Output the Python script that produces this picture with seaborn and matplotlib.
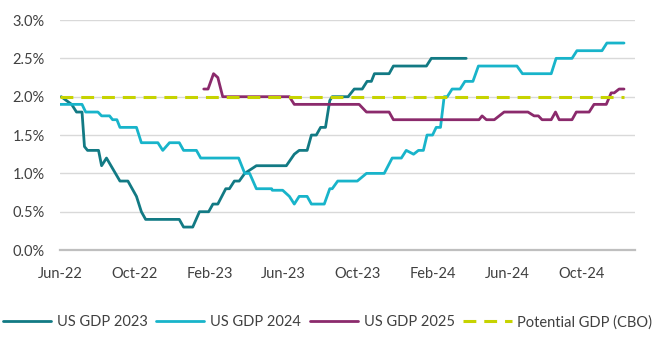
import matplotlib
matplotlib.use("Agg")
import matplotlib.pyplot as plt
import matplotlib.dates as mdates
import matplotlib.ticker as mticker
import pandas as pd
import seaborn as sns

sns.set_theme(style="white")
plt.rcParams["font.family"] = ["Lato", "DejaVu Sans"]

C_2023 = "#127a84"
C_2024 = "#18b4ca"
C_2025 = "#8b2a6c"
C_POT = "#c6d300"
TEXT = "#404040"

# ---------------------------------------------------------------------------
# Data (forecast revisions, % growth)
# ---------------------------------------------------------------------------

dates_2023 = [
    "2022-06-03", "2022-06-20", "2022-06-28", "2022-07-07", "2022-07-11", "2022-07-16",
    "2022-08-03", "2022-08-08", "2022-08-16", "2022-09-07", "2022-09-20", "2022-10-04",
    "2022-10-12", "2022-10-19", "2022-12-13", "2022-12-20", "2023-01-04", "2023-01-15",
    "2023-01-30", "2023-02-06", "2023-02-14", "2023-02-27", "2023-03-05", "2023-03-13",
    "2023-03-21", "2023-03-30", "2023-04-18", "2023-06-06", "2023-06-19", "2023-06-27",
    "2023-07-10", "2023-07-17", "2023-07-25", "2023-08-01", "2023-08-09", "2023-08-16",
    "2023-08-20", "2023-09-15", "2023-09-25", "2023-10-08", "2023-10-16", "2023-10-23",
    "2023-10-28", "2023-11-21", "2023-11-28", "2024-01-21", "2024-01-29", "2024-03-26",
]
gdp_2023 = [
    2.0, 1.9, 1.8, 1.8, 1.35, 1.3,
    1.3, 1.1, 1.2, 0.9, 0.9, 0.7,
    0.5, 0.4, 0.4, 0.3, 0.3, 0.5,
    0.5, 0.6, 0.6, 0.8, 0.8, 0.9,
    0.9, 1.0, 1.1, 1.1, 1.25, 1.3,
    1.3, 1.5, 1.5, 1.6, 1.6, 1.95,
    2.0, 2.0, 2.1, 2.1, 2.2, 2.2,
    2.3, 2.3, 2.4, 2.4, 2.5, 2.5,
]

dates_2024 = [
    "2022-06-01", "2022-07-07", "2022-07-13", "2022-08-02", "2022-08-08", "2022-08-21",
    "2022-08-26", "2022-09-02", "2022-09-07", "2022-10-04", "2022-10-12", "2022-11-08",
    "2022-11-16", "2022-11-27", "2022-12-13", "2022-12-20", "2023-01-10", "2023-01-17",
    "2023-03-20", "2023-03-30", "2023-04-07", "2023-04-18", "2023-05-13", "2023-05-14",
    "2023-05-31", "2023-06-11", "2023-06-19", "2023-06-27", "2023-07-10", "2023-07-17",
    "2023-08-07", "2023-08-16", "2023-08-20", "2023-08-29", "2023-09-30", "2023-10-15",
    "2023-11-13", "2023-11-26", "2023-12-11", "2023-12-19", "2023-12-31", "2024-01-08",
    "2024-01-16", "2024-01-22", "2024-01-31", "2024-02-06", "2024-02-13", "2024-02-19",
    "2024-02-24", "2024-03-03", "2024-03-16", "2024-03-24", "2024-04-06", "2024-04-15",
    "2024-06-17", "2024-06-26", "2024-08-12", "2024-08-20", "2024-09-15", "2024-09-23",
    "2024-11-03", "2024-11-11", "2024-12-09",
]
gdp_2024 = [
    1.9, 1.9, 1.8, 1.8, 1.75, 1.75,
    1.7, 1.7, 1.6, 1.6, 1.4, 1.4,
    1.3, 1.4, 1.4, 1.3, 1.3, 1.2,
    1.2, 1.0, 1.0, 0.8, 0.8, 0.78,
    0.78, 0.7, 0.6, 0.7, 0.7, 0.6,
    0.6, 0.8, 0.8, 0.9, 0.9, 1.0,
    1.0, 1.2, 1.2, 1.3, 1.25, 1.3,
    1.3, 1.5, 1.5, 1.6, 1.6, 2.0,
    2.0, 2.1, 2.1, 2.2, 2.2, 2.4,
    2.4, 2.3, 2.3, 2.5, 2.5, 2.6,
    2.6, 2.7, 2.7,
]

dates_2025 = [
    "2023-01-22", "2023-01-29", "2023-02-07", "2023-02-14", "2023-02-22", "2023-06-11",
    "2023-06-19", "2023-10-03", "2023-10-15", "2023-11-21", "2023-11-28", "2024-04-16",
    "2024-04-21", "2024-04-28", "2024-05-11", "2024-05-27", "2024-07-05", "2024-07-15",
    "2024-07-22", "2024-07-28", "2024-08-12", "2024-08-19", "2024-08-25", "2024-09-15",
    "2024-09-22", "2024-10-13", "2024-10-21", "2024-11-10", "2024-11-18", "2024-11-23",
    "2024-12-01", "2024-12-09",
]
gdp_2025 = [
    2.1, 2.1, 2.3, 2.25, 2.0, 2.0,
    1.9, 1.9, 1.8, 1.8, 1.7, 1.7,
    1.75, 1.7, 1.7, 1.8, 1.8, 1.75,
    1.75, 1.7, 1.7, 1.8, 1.7, 1.7,
    1.8, 1.8, 1.9, 1.9, 2.05, 2.05,
    2.1, 2.1,
]

dates_potential = ["2022-06-01", "2024-12-09"]
potential_gdp = [2.0, 2.0]

y_ticks = [0.0, 0.5, 1.0, 1.5, 2.0, 2.5, 3.0]

# ---------------------------------------------------------------------------
# Plot
# ---------------------------------------------------------------------------

def _frame(dates, values):
    return pd.DataFrame({"date": pd.to_datetime(dates), "value": values})


fig = plt.figure(figsize=(6.55, 3.64), dpi=100)
ax = fig.add_axes([0.0916, 0.313, 0.8779, 0.632])

for dates, values, label, color in [
    (dates_2023, gdp_2023, "US GDP 2023", C_2023),
    (dates_2024, gdp_2024, "US GDP 2024", C_2024),
    (dates_2025, gdp_2025, "US GDP 2025", C_2025),
]:
    sns.lineplot(
        data=_frame(dates, values), x="date", y="value", ax=ax,
        color=color, linewidth=2.0, label=label, estimator=None, sort=False,
    )

sns.lineplot(
    data=_frame(dates_potential, potential_gdp), x="date", y="value", ax=ax,
    color=C_POT, linewidth=2.2, label="Potential GDP (CBO)",
    estimator=None, sort=False, dashes=False,
)
ax.get_lines()[-1].set_dashes([4.2, 2.6])
ax.get_lines()[-1].set_zorder(3)

ax.set_xlim(pd.Timestamp("2022-06-01"), pd.Timestamp("2024-12-27"))
ax.set_ylim(0, 3.0)
ax.set_yticks(y_ticks)
ax.yaxis.set_major_formatter(mticker.FuncFormatter(lambda y, _: f"{y:.1f}%"))
ax.xaxis.set_major_locator(mdates.MonthLocator(bymonth=[2, 6, 10]))
ax.xaxis.set_major_formatter(mdates.DateFormatter("%b-%y"))

ax.grid(axis="y", color="#d9d9d9", linewidth=1.0)
ax.set_axisbelow(True)
for side in ["top", "right", "left"]:
    ax.spines[side].set_visible(False)
ax.spines["bottom"].set_color("#bfbfbf")
ax.spines["bottom"].set_linewidth(1.6)
ax.tick_params(axis="both", length=0, labelsize=10.5, colors=TEXT)
ax.tick_params(axis="y", pad=11)
ax.tick_params(axis="x", pad=12)
ax.set_xlabel("")
ax.set_ylabel("")

handles, labels = ax.get_legend_handles_labels()
ax.legend_.remove()
fig.legend(
    handles, labels, loc="center", bbox_to_anchor=(0.5, 0.115), ncol=4,
    frameon=False, fontsize=10.5, handlelength=3.3, handletextpad=0.4,
    columnspacing=0.6, labelcolor=TEXT, borderpad=0.1,
)

fig.savefig("out.png", dpi=100)
